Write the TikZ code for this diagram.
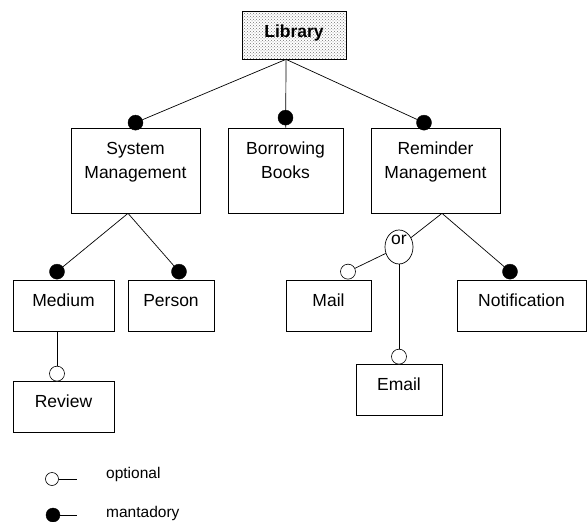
\documentclass[tikz,border=0pt]{standalone}
\usepackage{fontspec}
\setmainfont{Liberation Sans}
\usetikzlibrary{positioning,shapes.geometric,patterns}

\begin{document}
\begin{tikzpicture}[
  x=1pt, y=-1pt,
  feat/.style={draw, line width=0.7pt, inner sep=0pt, align=center, minimum height=51pt,
    font=\fontsize{17.5}{24}\selectfont, text height=12pt, text depth=11pt},
  feat2/.style={feat, minimum width=129pt, minimum height=85pt, text height=36pt, text depth=21pt},
  root/.style={feat, minimum width=104pt, minimum height=48pt, font=\fontsize{17.5}{24}\selectfont\bfseries,
    text depth=8pt, pattern=crosshatch dots, pattern color=black!55},
  mand/.style={circle, draw, fill=black, inner sep=0pt, minimum size=15pt},
  opt/.style={circle, draw, line width=0.6pt, fill=white, inner sep=0pt, minimum size=15pt},
  conn/.style={line width=0.7pt},
  legend/.style={anchor=west, inner sep=0pt, font=\fontsize{15.5}{18}\selectfont},
]
\useasboundingbox (0,0) rectangle (587,522);

% features
\node[root] (lib) at (294,35) {Library};
\node[feat2] (sysm) at (135.5,170.5) {System\\Management};
\node[feat2, minimum width=115pt] (borrow) at (285.5,170.5) {Borrowing\\Books};
\node[feat2] (remind) at (435.5,170.5) {Reminder\\Management};
\node[feat, minimum width=101pt] (medium) at (63.5,305.5) {Medium};
\node[feat, minimum width=86pt] (person) at (171,305.5) {Person};
\node[feat, minimum width=101pt] (review) at (63.5,406.5) {Review};
\node[feat, minimum width=85pt] (mail) at (328.5,305.5) {Mail};
\node[feat, minimum width=129pt] (notif) at (521.5,305.5) {Notification};
\node[feat, minimum width=86pt] (email) at (399,389.5) {Email};
\node[ellipse, draw, line width=0.7pt, inner sep=0pt, minimum width=28pt, minimum height=34pt,
  font=\fontsize{17.5}{24}\selectfont, text height=9pt, text depth=14pt] (orgrp) at (399,247) {or};

% branch points
\coordinate (libj) at ([xshift=-8pt]lib.south);
\coordinate (sysj) at ([xshift=-7.5pt]sysm.south);
\coordinate (remj) at ([xshift=6.5pt]remind.south);
\coordinate (medj) at ([xshift=-6.5pt]medium.south);
\draw[conn] (libj) -- (borrow);

% end markers
\node[mand] (msys) at ([yshift=5pt]sysm.north) {};
\node[mand] (mborrow) at ([yshift=10pt]borrow.north) {};
\node[mand] (mremind) at ([xshift=-11.5pt,yshift=5pt]remind.north) {};
\node[mand] (mmedium) at ([xshift=-6.5pt,yshift=8pt]medium.north) {};
\node[mand] (mperson) at ([xshift=8pt,yshift=8pt]person.north) {};
\node[mand] (mnotif) at ([xshift=-11.5pt,yshift=8pt]notif.north) {};
\node[opt] (oreview) at ([xshift=-6.5pt,yshift=7pt]review.north) {};
\node[opt] (omail) at ([xshift=19.5pt,yshift=8pt]mail.north) {};
\node[opt] (oemail) at ([yshift=7pt]email.north) {};

% connections
\draw[conn] (libj) -- (msys);
\draw[conn] (libj) -- (mremind);
\draw[conn] (sysj) -- (mmedium);
\draw[conn] (sysj) -- (mperson);
\draw[conn] (medj) -- (oreview);
\draw[conn] (remj) -- (orgrp);
\draw[conn] (remj) -- (mnotif);
\draw[conn] (orgrp) -- (omail);
\draw[conn] (orgrp) -- (oemail);

% legend
\node[opt, minimum size=13pt] (lgopt) at (52,479) {};
\coordinate (lgoptend) at (77,479);
\draw[conn] (lgopt) -- (lgoptend);
\node[legend] (lgopttxt) at (106,474) {optional};
\node[mand, minimum size=14pt] (lgmand) at (53,515) {};
\coordinate (lgmandend) at (77,515);
\draw[conn] (lgmand) -- (lgmandend);
\node[legend] (lgmandtxt) at (106,513) {mantadory};
\end{tikzpicture}
\end{document}
